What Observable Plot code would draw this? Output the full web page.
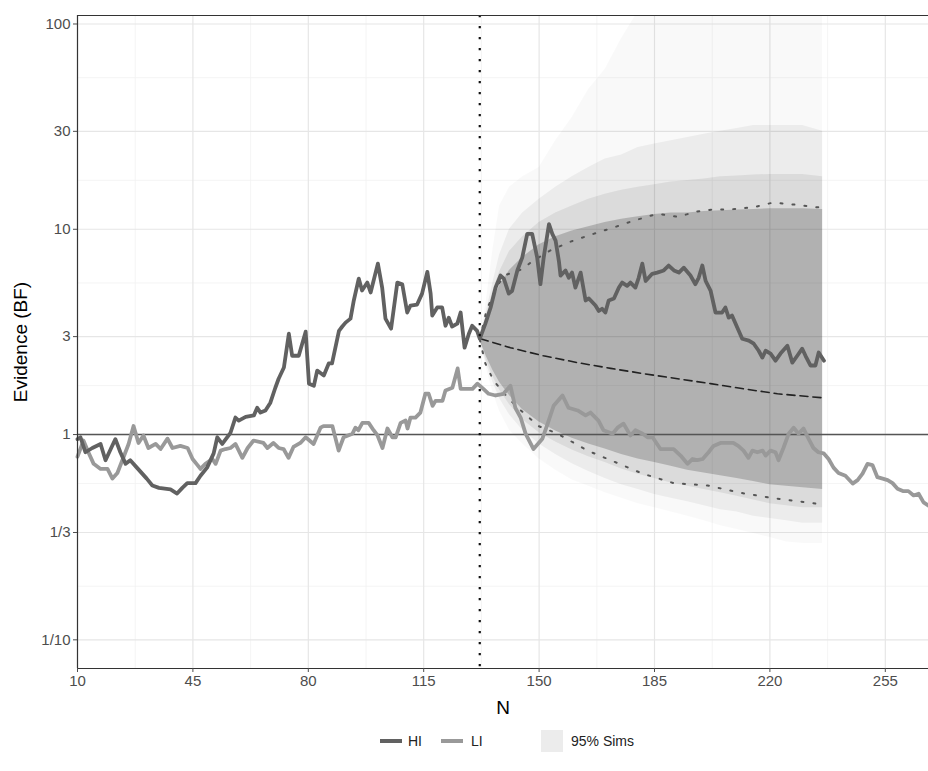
<!DOCTYPE html>
<html>
<head>
<meta charset="utf-8">
<script src="https://cdn.jsdelivr.net/npm/d3@7"></script>
<script src="https://cdn.jsdelivr.net/npm/@observablehq/plot@0.6"></script>
<style>
  html, body { margin: 0; padding: 0; background: #fff; }
  body { font-family: "Liberation Sans", Arial, sans-serif; width: 928px; overflow: hidden; }
  #legend { position: relative; width: 928px; height: 49px; font-size: 14px; color: #222; }
  #legend .sw { position: absolute; height: 4px; top: 17px; }
  #legend .lab { position: absolute; top: 11px; line-height: 16px; }
  #legend .sq { position: absolute; top: 8px; width: 22px; height: 22px; background: #ececec; }
</style>
</head>
<body>
<div id="chart"></div>
<div id="legend"></div>
<script>
// ---- tick values / labels ----
const xTicks = [10, 45, 80, 115, 150, 185, 220, 255];
const yTicks = [0.1, 1/3, 1, 3, 10, 30, 100];
const yTickLabels = ["1/10", "1/3", "1", "3", "10", "30", "100"];
const xDomain = [10, 268.1];
const yDomain = [0.0725, 110];
const startN = 132;          // sequential analysis point (vertical dotted line)
const refBF = 1;             // reference line

// ---- HI observed evidence ----
const hiN = [10,10.9,12.4,14.5,17,18.5,20.5,21.5,23,24.6,26,28,31,32.7,34.7,38.2,40.2,41.8,43.3,45.8,47.3,49.3,51.3,52.4,53.9,56.4,57.9,58.9,61,63.5,64.5,65.5,67,68.5,70,71,72.6,74.1,75.1,77.1,79.2,80.2,81.7,82.7,84.7,86.2,87.2,89.3,90.3,91.3,92.8,93.8,95.3,96.3,97.9,98.9,101.1,102.4,103.4,105.1,107,108.5,110,111,113,114.5,116.1,117.1,117.6,119.1,120.6,121.6,122.6,123.6,125.2,126.2,127.4,128.7,129.7,131.2,132,133.7,135.3,136.8,138.3,139.3,140.8,141.8,143.4,144.9,146.4,147.9,149.4,150.4,151.4,153,154,155,156,156.5,158,159,160,161,162.6,164.1,165.1,167.1,168.1,169.1,170.1,171.1,172.7,174.2,175.2,176.7,177.7,179.2,180.2,181.3,182.3,184.3,185.8,187.8,189.3,190.9,192.4,193.9,195.9,197.4,198.4,199.5,200.5,202,203.5,205.5,206.5,207.5,208.5,210.1,211.6,213.6,215.1,216.6,217.7,218.7,220.2,221.7,223.2,225.3,226.8,228.3,229.8,230.8,232.3,233.8,234.8,236.4];
const hiBF = [0.95,0.97,0.82,0.86,0.9,0.75,0.88,0.95,0.82,0.72,0.75,0.69,0.61,0.565,0.55,0.54,0.516,0.55,0.58,0.58,0.63,0.69,0.81,0.97,0.9,1.02,1.21,1.17,1.22,1.24,1.35,1.28,1.31,1.43,1.69,1.87,2.12,3.1,2.42,2.42,3.17,1.77,1.73,2.05,1.94,2.22,2.22,3.2,3.36,3.51,3.67,4.5,5.75,5.03,5.5,4.92,6.8,5.2,3.67,3.28,5.5,5.4,3.93,4.25,4.3,4.86,6.2,4.86,3.8,4.16,4.16,3.39,3.71,3.36,3.47,3.93,2.65,3.1,3.39,3.2,2.93,3.47,4.16,5.2,5.95,5.75,4.86,5.0,6.3,7.3,9.5,9.5,7.3,5.4,7.3,10.6,9.5,8.8,7.0,5.95,6.3,5.8,6.15,5.2,6.15,4.5,4.6,4.25,4.0,4.1,3.93,4.5,4.6,5.2,5.5,5.3,5.5,5.2,5.8,6.8,5.6,6.07,6.15,6.3,6.66,6.3,6.15,6.5,5.95,5.4,5.8,6.66,5.6,5.03,3.93,3.93,4.16,3.71,3.8,3.32,2.93,2.87,2.77,2.56,2.37,2.56,2.48,2.29,2.48,2.71,2.24,2.42,2.62,2.42,2.17,2.17,2.51,2.29];

// ---- LI observed evidence ----
const liN = [10,11.8,13.3,14.9,17,19.1,20.6,22.1,23.6,25.5,27,28.5,30,31.5,33.7,35.2,37.3,38.8,41.2,43.4,44.9,46.4,47.3,48.8,50.9,51.9,53.4,54.9,56.4,57.9,60,61.6,63.4,66.4,67.6,69.4,71,72.5,74,75.5,77.6,79.2,81.6,83.7,84.6,87.3,89.2,90.7,93.4,94.3,95.2,96.4,98.3,99.8,101,102.5,104,105.5,106.5,108,109.5,110.1,111,112.5,114,115.5,116.5,117.7,118.6,120.7,121.6,123.7,125.3,126.2,128.3,129.8,131.3,133.1,134.7,136.8,139.2,141.3,142.8,144.4,145.9,148.3,151,152.6,154.4,157.1,158.9,161.7,164.1,165.6,168,169.5,172.3,173.8,175.6,177.7,179.2,181.4,182.9,184.4,186.8,188.3,190.8,192.9,195,196.5,198,199.6,201.4,202.9,205,207.1,208.9,210.4,212,213.5,214.7,216.2,217.8,218.7,220.2,221.7,222.6,224.1,225.7,227.2,228.7,230.2,231.7,233.2,234.7,236.3,237.8,239.3,240.8,242.9,245.1,246.6,248.1,249.6,251.1,252.6,254.2,255.7,257.2,258.7,260.5,262,263.6,265.1,266.6,268.1];
const liBF = [0.78,0.935,0.82,0.72,0.68,0.68,0.61,0.65,0.75,0.9,1.1,0.91,0.99,0.86,0.9,0.85,0.955,0.86,0.88,0.86,0.76,0.71,0.68,0.72,0.76,0.72,0.835,0.85,0.86,0.9,0.77,0.86,0.935,0.91,0.86,0.91,0.86,0.85,0.77,0.87,0.91,0.97,0.9,1.08,1.1,1.1,0.835,0.97,1.01,1.08,1.05,1.14,1.14,1.05,0.99,0.86,1.07,0.97,0.97,1.14,1.17,1.07,1.21,1.21,1.28,1.58,1.58,1.38,1.46,1.46,1.64,1.69,2.1,1.67,1.67,1.67,1.77,1.67,1.58,1.55,1.58,1.73,1.35,1.21,1.01,0.85,0.955,1.13,1.38,1.55,1.35,1.31,1.24,1.28,1.17,1.05,1.01,1.08,1.13,0.99,1.05,1.01,0.97,0.97,0.85,0.85,0.85,0.79,0.72,0.76,0.75,0.76,0.82,0.88,0.91,0.91,0.91,0.88,0.835,0.77,0.835,0.82,0.835,0.79,0.835,0.82,0.75,0.86,1.01,1.08,1.01,1.07,0.955,0.86,0.82,0.81,0.76,0.69,0.65,0.63,0.577,0.6,0.645,0.72,0.71,0.62,0.61,0.6,0.58,0.545,0.53,0.53,0.505,0.515,0.467,0.45];

// ---- simulated continuations (envelopes) ----
const simN    = [132,134,136,138,141,145,150,155,160,165,170,175,180,185,190,195,200,205,210,215,220,225,230,236];
const faintHi = [2.9,4.5,8,13,16,18,20,27,35,48,60,85,115,115,115,115,115,115,115,115,115,115,115,115];
const faintLo = [2.9,2.1,1.6,1.3,1.05,0.9,0.76,0.67,0.6,0.56,0.52,0.49,0.46,0.44,0.42,0.4,0.38,0.36,0.345,0.33,0.315,0.3,0.295,0.295];
const midHi   = [2.9,4,5.5,7.5,10,12,14,16,18,20,22,23,25,26,27,28,29,30,31,32,32,32,32,30];
const midLo   = [2.9,2.2,1.8,1.5,1.25,1.05,0.9,0.8,0.72,0.66,0.61,0.57,0.54,0.51,0.49,0.47,0.45,0.43,0.42,0.4,0.39,0.38,0.37,0.37];
const innerHi = [2.9,3.8,5,6.2,7.8,9.2,10.8,12,13,14,14.8,15.5,16,16.5,17,17.3,17.6,18,18.2,18.4,18.5,18.5,18.5,18];
const innerLo = [2.9,2.3,1.92,1.65,1.4,1.18,1.02,0.92,0.84,0.78,0.73,0.68,0.64,0.61,0.58,0.56,0.54,0.52,0.5,0.48,0.46,0.45,0.44,0.44];
const coreHi  = [2.9,3.6,4.5,5.3,6.3,7.3,8.4,9.2,9.8,10.3,10.8,11.2,11.5,11.8,12,12,12.2,12.3,12.4,12.5,12.6,12.6,12.6,12.5];
const coreLo  = [2.9,2.4,2.05,1.8,1.55,1.32,1.15,1.04,0.96,0.9,0.85,0.8,0.76,0.73,0.7,0.67,0.65,0.63,0.61,0.59,0.57,0.56,0.55,0.54];

// 95% bounds (dotted) and median (dashed)
const upN  = [132,134,136,138,140,145,148,153.5,159.5,166.5,172.6,178.6,185.9,192,198,202.9,208,215,221,227.2,234.4,236];
const upBF = [2.9,4.0,4.8,5.5,6.0,6.4,7.0,7.9,8.7,9.5,10.2,11.0,11.9,11.5,12.2,12.5,12.5,12.8,13.5,13.2,12.8,12.8];
const loN  = [132,133.7,136.2,140.7,143.8,149.8,155.6,164.7,171.7,181.4,190.8,201.1,211.1,221.1,234.4,236];
const loBF = [2.9,2.22,1.83,1.5,1.34,1.1,1.01,0.835,0.75,0.645,0.58,0.565,0.52,0.49,0.46,0.46];
const medN  = [132.2,141.3,151.3,161.7,171.7,181.7,192,202,212,222.3,236];
const medBF = [2.93,2.65,2.42,2.24,2.1,1.98,1.87,1.77,1.67,1.58,1.51];

// ---- build tables ----
const hi = hiN.map((n, i) => ({n, bf: hiBF[i]}));
const li = liN.map((n, i) => ({n, bf: liBF[i]}));
const sims = simN.map((n, i) => ({n,
  faintHi: faintHi[i], faintLo: faintLo[i], midHi: midHi[i], midLo: midLo[i],
  innerHi: innerHi[i], innerLo: innerLo[i], coreHi: coreHi[i], coreLo: coreLo[i]}));
const upper = upN.map((n, i) => ({n, bf: upBF[i]}));
const lower = loN.map((n, i) => ({n, bf: loBF[i]}));
const median = medN.map((n, i) => ({n, bf: medBF[i]}));
const xStep = xTicks[1] - xTicks[0];
const xMinor = xTicks.map(t => t + xStep / 2).filter(v => v < xDomain[1]);
const yMinor = yTicks.slice(1).map((t, i) => Math.sqrt(t * yTicks[i]));

const fmtY = d => yTickLabels[yTicks.findIndex(t => Math.abs(t - d) < 1e-9)];

const chart = Plot.plot({
  width: 928,
  height: 722,
  marginTop: 15,
  marginLeft: 77,
  marginRight: 0,
  marginBottom: 54,
  style: {fontFamily: "'Liberation Sans', Arial, sans-serif", fontSize: "15px", background: "#fff"},
  x: {domain: xDomain},
  y: {type: "log", domain: yDomain},
  marks: [
    // grid
    Plot.ruleX(xMinor, {stroke: "#f1f1f1", strokeWidth: 0.8}),
    Plot.ruleY(yMinor, {stroke: "#f1f1f1", strokeWidth: 0.8}),
    Plot.ruleX(xTicks, {stroke: "#e6e6e6", strokeWidth: 1.2}),
    Plot.ruleY(yTicks, {stroke: "#e6e6e6", strokeWidth: 1.2}),
    // simulation bands (layered translucency)
    Plot.areaY(sims, {x: "n", y1: "faintLo", y2: "faintHi", fill: "#000", fillOpacity: 0.025, clip: true}),
    Plot.areaY(sims, {x: "n", y1: "midLo", y2: "midHi", fill: "#000", fillOpacity: 0.05, clip: true}),
    Plot.areaY(sims, {x: "n", y1: "innerLo", y2: "innerHi", fill: "#000", fillOpacity: 0.07, clip: true}),
    Plot.areaY(sims, {x: "n", y1: "coreLo", y2: "coreHi", fill: "#000", fillOpacity: 0.19, clip: true}),
    // bounds + median
    Plot.line(upper, {x: "n", y: "bf", stroke: "#555", strokeWidth: 2, strokeDasharray: "2 10"}),
    Plot.line(lower, {x: "n", y: "bf", stroke: "#555", strokeWidth: 2, strokeDasharray: "2 10"}),
    Plot.line(median, {x: "n", y: "bf", stroke: "#222", strokeWidth: 1.6, strokeDasharray: "8 5"}),
    // reference line
    Plot.ruleY([refBF], {stroke: "#555", strokeWidth: 1.5}),
    // observed lines
    Plot.line(li, {x: "n", y: "bf", stroke: "#999", strokeWidth: 3.8, strokeLinejoin: "round"}),
    Plot.line(hi, {x: "n", y: "bf", stroke: "#616161", strokeWidth: 3.8, strokeLinejoin: "round"}),
    // vertical dotted line
    Plot.ruleX([startN], {stroke: "#111", strokeWidth: 2.2, strokeDasharray: "2.2 8.8"}),
    // panel border (left/top/bottom; right edge cropped)
    Plot.ruleX([xDomain[0]], {stroke: "#333", strokeWidth: 1.2}),
    Plot.ruleY([yDomain[1], yDomain[0]], {stroke: "#333", strokeWidth: 1.2}),
    // axes
    Plot.axisX({ticks: xTicks, tickFormat: d => String(d), tickSize: 4, tickPadding: 3, color: "#4d4d4d", fontSize: 15, label: null}),
    Plot.axisY({ticks: yTicks, tickFormat: fmtY, tickSize: 4, tickPadding: 3, color: "#4d4d4d", fontSize: 15, label: null}),
    Plot.text(["N"], {frameAnchor: "bottom", dy: 39, lineAnchor: "middle", textAnchor: "middle", fontSize: 19, fill: "#000"}),
    Plot.text(["Evidence (BF)"], {frameAnchor: "left", dx: -57, rotate: -90, textAnchor: "middle", lineAnchor: "middle", fontSize: 19, fill: "#000"})
  ]
});
document.getElementById("chart").appendChild(chart);

// ---- legend ----
const legendItems = [
  {type: "line", label: "HI", color: "#616161"},
  {type: "line", label: "LI", color: "#999"},
  {type: "box", label: "95% Sims", color: "#ececec"}
];
const lg = document.getElementById("legend");
const pos = [{sw: 380, lab: 408}, {sw: 441, lab: 471}, {sw: 541, lab: 571}];
legendItems.forEach((it, i) => {
  const s = document.createElement("div");
  if (it.type === "line") {
    s.className = "sw";
    s.style.left = pos[i].sw + "px";
    s.style.width = "22px";
    s.style.background = it.color;
  } else {
    s.className = "sq";
    s.style.left = pos[i].sw + "px";
    s.style.background = it.color;
  }
  lg.appendChild(s);
  const t = document.createElement("div");
  t.className = "lab";
  t.style.left = pos[i].lab + "px";
  t.textContent = it.label;
  lg.appendChild(t);
});
</script>
</body>
</html>
